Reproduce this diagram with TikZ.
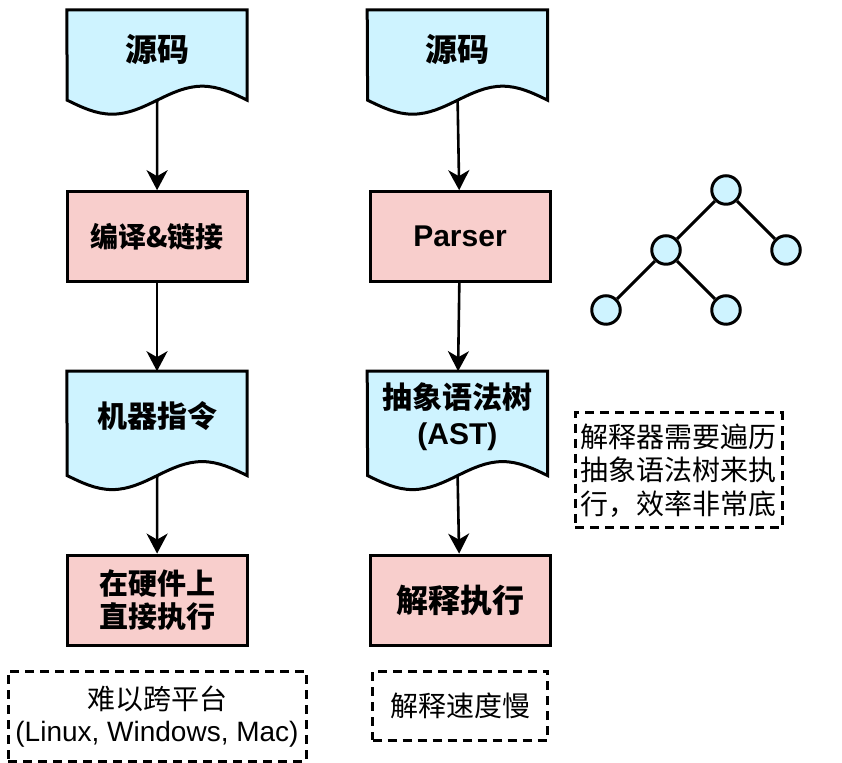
\documentclass[tikz,border=0pt]{standalone}
\usepackage{fontspec}
\setmainfont{Liberation Sans}
\newfontfamily\cjk{Noto Sans CJK SC}
\usepackage{tikz}
\usetikzlibrary{positioning,arrows.meta,backgrounds,calc}
\definecolor{docblue}{RGB}{206,243,255}
\definecolor{procpink}{RGB}{248,206,204}
\tikzset{
  docbody/.style={minimum width=180pt,inner sep=0pt,align=center,font=\bfseries\fontsize{30}{36}\selectfont},
  docline/.style={draw,line width=3pt,fill=docblue},
  proc/.style={draw,line width=3pt,fill=procpink,minimum width=180pt,minimum height=90pt,inner sep=0pt,align=center,font=\cjk\bfseries\fontsize{30}{34}\selectfont},
  remark/.style={draw,line width=3pt,dash pattern=on 9pt off 6pt,inner sep=0pt,align=center,font=\fontsize{28}{32}\selectfont},
  leaf/.style={circle,draw,line width=3pt,fill=docblue,minimum size=28.5pt,inner sep=0pt},
  flow/.style={-{Stealth[length=20pt,width=21pt,inset=6pt]},line width=2.6pt},
}

\begin{document}
\begin{tikzpicture}[x=1pt,y=1pt]
  \useasboundingbox (0,0) rectangle (842,762);
  % compiled
  \node[docbody,minimum height=78pt,font=\cjk\bfseries\fontsize{32}{36}\selectfont] (src1) at (157,713) {源码};
  \node[proc,below=102pt of src1,font=\cjk\bfseries\fontsize{28}{34}\selectfont] (cmp) {编译\&链接};
  \node[docbody,minimum height=90pt,below=88pt of cmp,font=\cjk\bfseries\fontsize{30}{36}\selectfont] (mc) {机器指令};
  \node[proc,below=92pt of mc,font=\cjk\bfseries\fontsize{29}{33}\selectfont] (run) {在硬件上\\直接执行};
  \node[remark,minimum width=298pt,minimum height=90pt,below=23pt of run] (port) {{\cjk 难以跨平台}\\(Linux, Windows, Mac)};
  % interpreted
  \node[docbody,minimum height=78pt,right=120pt of src1,font=\cjk\bfseries\fontsize{32}{36}\selectfont] (src2) {源码};
  \node[proc,right=120pt of cmp,font=\bfseries\fontsize{30}{34}\selectfont] (prs) {Parser};
  \node[docbody,minimum height=90pt,right=120pt of mc] (ast) {{\cjk 抽象语法树}\\(AST)};
  \node[proc,right=120pt of run,font=\cjk\bfseries\fontsize{32}{34}\selectfont] (intp) {解释执行};
  \node[remark,minimum width=175pt,minimum height=69pt,below=23pt of intp,font=\cjk\fontsize{28}{32}\selectfont] (slow) {解释速度慢};
  \node[remark,minimum width=207pt,minimum height=115pt,font=\cjk\fontsize{28}{33.5}\selectfont] (walk) at (678.5,291.5) {解释器需要遍历\\抽象语法树来执\\行，效率非常底};
  % document shapes
  \begin{scope}[on background layer]
    \foreach \n/\e in {src1/12,mc/14,src2/12,ast/14}
      \draw[docline] (\n.north west) -- (\n.north east) -- ($(\n.south east)+(0,-\e)$)
        sin ++(-45,14) cos ++(-45,-14) coordinate (\n-wave) sin ++(-45,-14) cos ++(-45,14) -- cycle;
  \end{scope}
  \draw[flow] (src1-wave) -- (cmp);
  \draw[flow] (cmp) -- (mc);
  \draw[flow] (mc-wave) -- (run);
  \draw[flow] (src2-wave) -- (prs);
  \draw[flow] (prs) -- (ast);
  \draw[flow] (ast-wave) -- (intp);
  % tree
  \foreach \n/\x/\y in {t1/726/572,t2/666/512,t3/786/512,t4/606/452,t5/726/452}
    \node[leaf] (\n) at (\x,\y) {};
  \draw[line width=3pt] (t1) -- (t2) (t1) -- (t3) (t2) -- (t4) (t2) -- (t5);
\end{tikzpicture}
\end{document}
